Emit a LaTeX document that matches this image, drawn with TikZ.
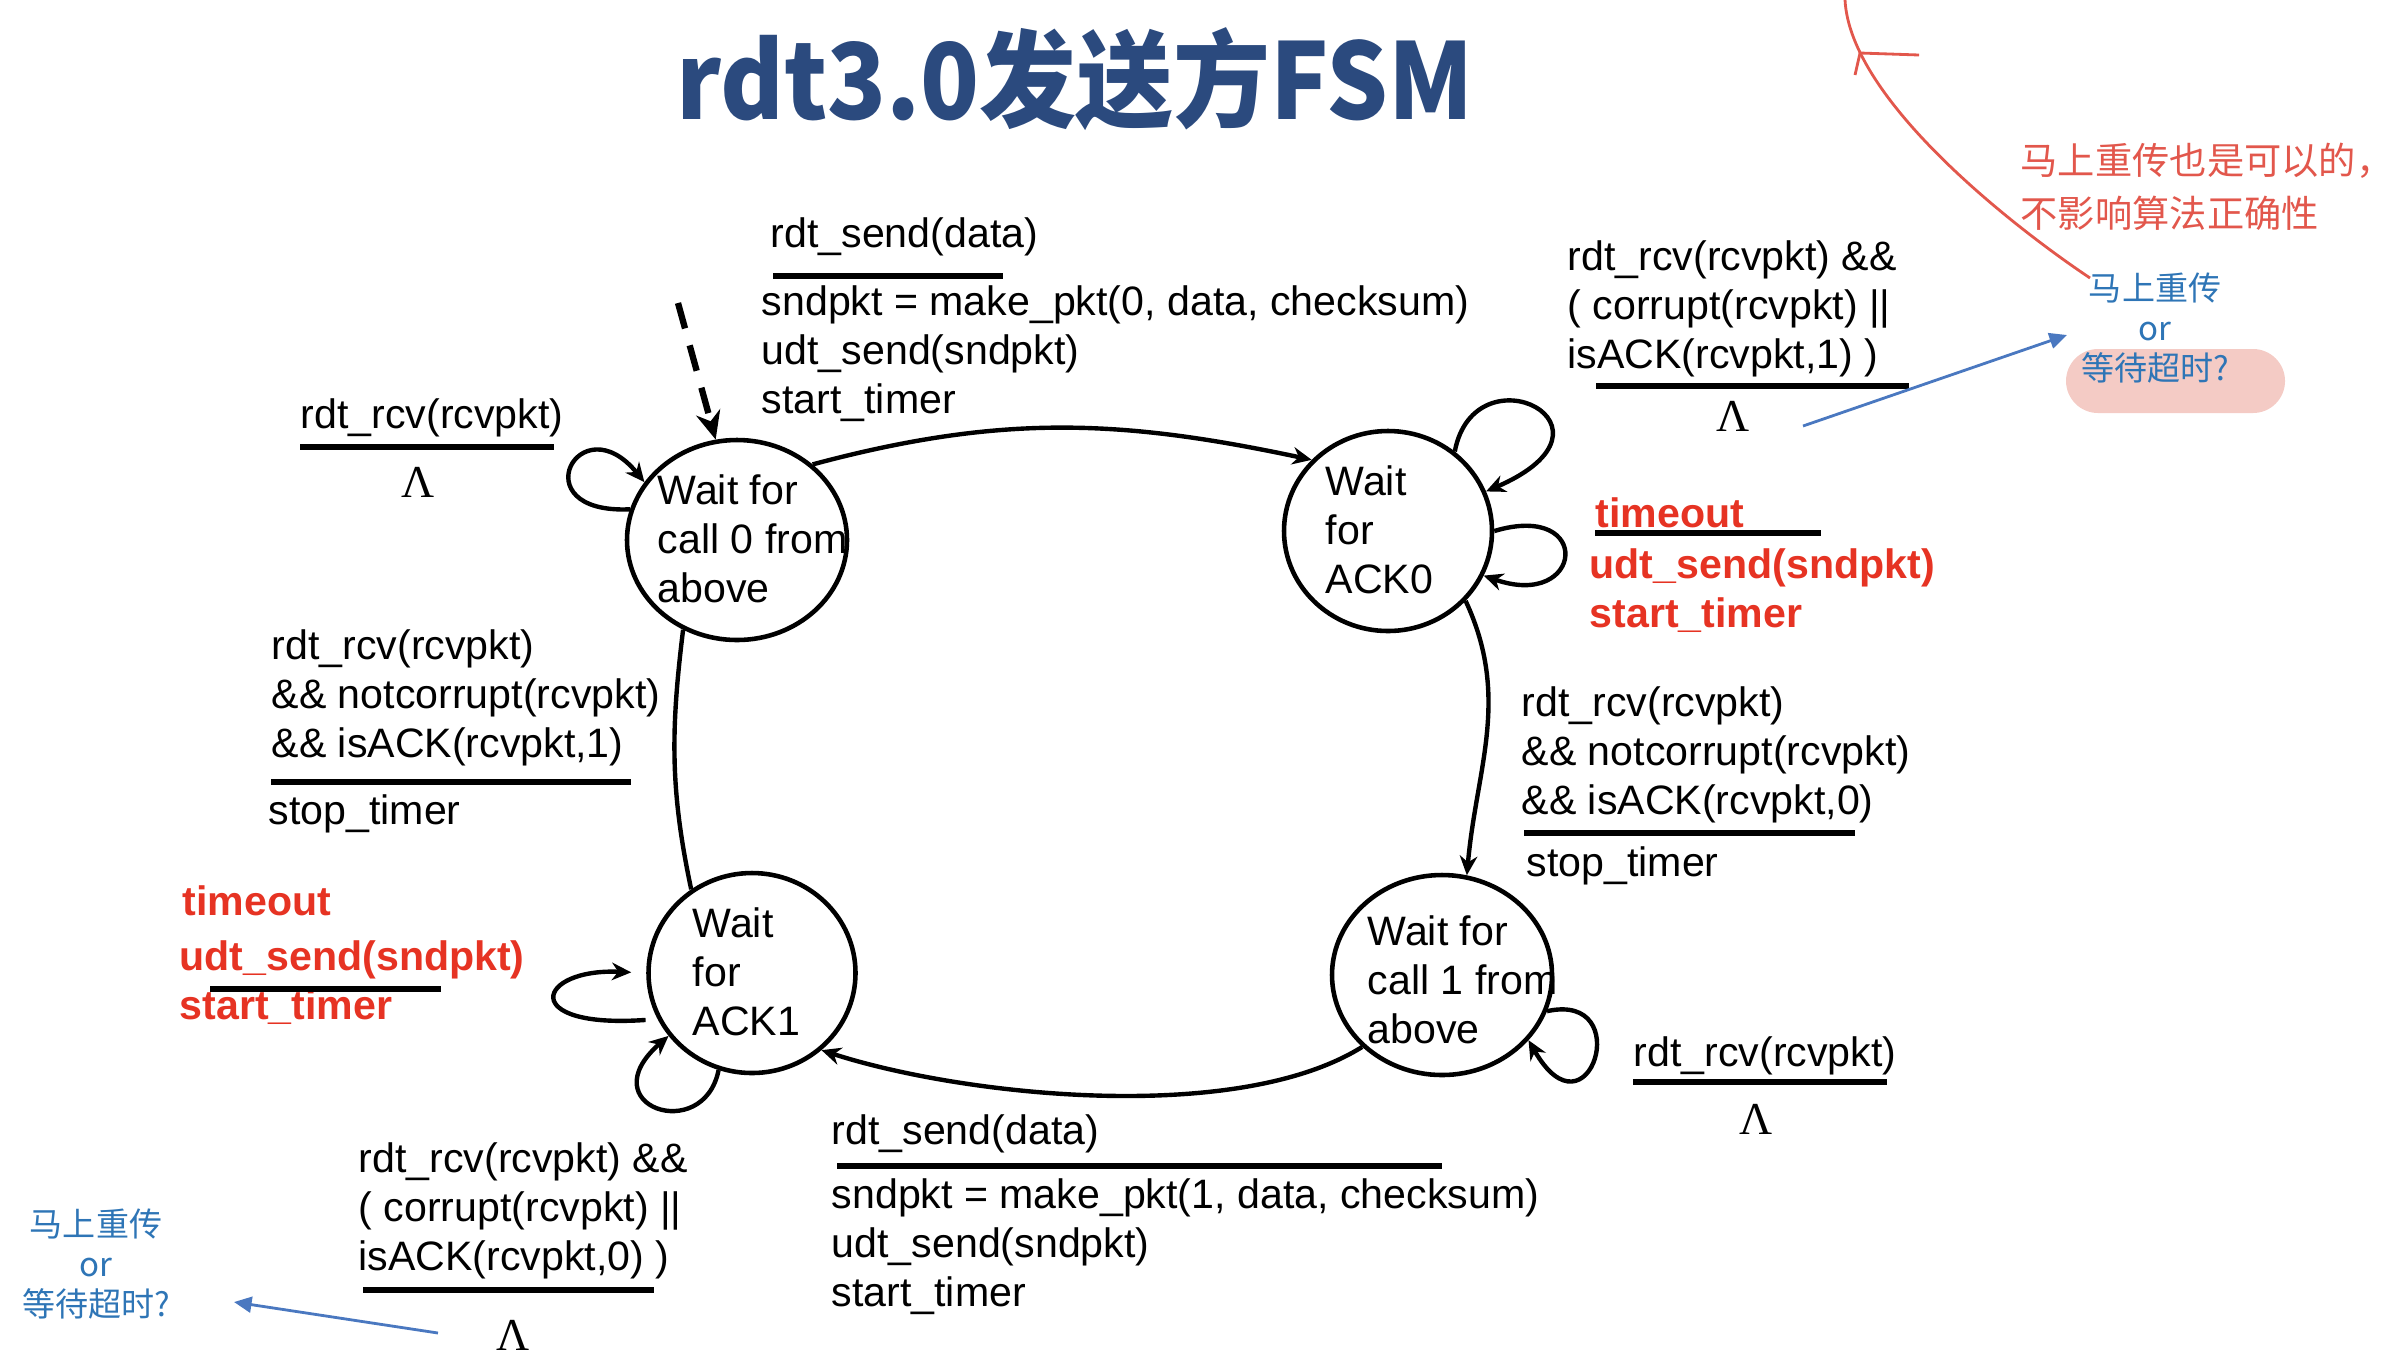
\documentclass[tikz,border=0pt]{standalone}
\usepackage{fontspec}
\setmainfont{Liberation Sans}
\newfontfamily\cjkfont{Noto Sans CJK SC}
\newfontfamily\lamfont{Liberation Serif}
\usepackage{xcolor}
\usetikzlibrary{arrows.meta,positioning,shapes.geometric}

\definecolor{titleblue}{HTML}{2B4A7E}
\definecolor{fsmred}{HTML}{E63323}
\definecolor{notered}{HTML}{E2574C}
\definecolor{noteblue}{HTML}{2E75B6}
\definecolor{arrowblue}{HTML}{4A78C0}
\definecolor{pillpink}{HTML}{F4CBC5}

\newcommand\lblfont{\fontsize{11.7}{13.9}\selectfont}

\begin{document}
\begin{tikzpicture}[
    state/.style={draw, ellipse, line width=1.3pt, minimum height=2.0cm, inner sep=0pt},
    stxt/.style={font=\lblfont, align=left, anchor=west, inner sep=0pt},
    lbl/.style={font=\lblfont, align=left, anchor=west, inner sep=0pt},
    rlbl/.style={lbl, font=\lblfont\bfseries, text=fsmred},
    lam/.style={font=\lamfont\fontsize{13}{15}\selectfont, inner sep=0pt},
    ubar/.style={line width=1.5pt},
    arr/.style={-{Stealth[length=5.5pt,width=5pt]}, line width=1.25pt},
    plain/.style={line width=1.25pt},
    initarr/.style={-{Stealth[length=8pt,width=7pt]}, line width=1.8pt,
                    dash pattern=on 7.5pt off 5pt},
    notetxt/.style={font=\cjkfont\fontsize{9.4}{11.3}\selectfont, text=noteblue,
                    align=center, inner sep=0pt},
    narr/.style={-{Triangle[length=5pt,width=4.5pt]}, arrowblue, line width=0.8pt},
    noteline/.style={notered, line width=0.8pt},
    pill/.style={fill=pillpink, rounded corners=0.32cm, minimum width=2.19cm,
                 minimum height=0.64cm, inner sep=0pt}
]
    \useasboundingbox (0,0) rectangle (24,-13.62);

    % Title
    \node[font=\cjkfont\bfseries\fontsize{30}{36}\selectfont, text=titleblue, anchor=base]
        (title) at (10.75,-1.19) {\scalebox{0.92}[1]{rdt3.0发送方FSM}};

    % States
    \node[state, minimum width=2.2cm] (s0) at (7.37,-5.40) {};
    \node[state, minimum width=2.08cm] (s1) at (13.88,-5.31) {};
    \node[state, minimum width=2.2cm] (s2) at (14.42,-9.75) {};
    \node[state, minimum width=2.07cm] (s3) at (7.52,-9.73) {};

    \node[stxt] (s0txt) at (6.57,-5.39) {Wait for\\call 0 from\\above};
    \node[stxt] (s1txt) at (13.25,-5.30) {Wait\\for\\ACK0};
    \node[stxt] (s2txt) at (13.67,-9.80) {Wait for\\call 1 from\\above};
    \node[stxt] (s3txt) at (6.92,-9.72) {Wait\\for\\ACK1};

    % Initial arrow
    \coordinate (init) at (6.78,-3.03);
    \draw[initarr] (init) -- (s0.102);

    % Transitions
    \draw[arr] (s0.45) to[out=15, in=168] (s1.137);
    \draw[arr] (s1.-42) to[out=-65, in=85] (s2.76);
    \draw[arr] (s2.222) to[out=212, in=-18, looseness=0.7] (s3.312);
    \draw[plain] (s3.126) to[out=102, in=-97] (s0.239);

    % Self loops
    \draw[arr] (s0.164) .. controls +(-1.1,-0.05) and +(-0.65,0.8) .. (s0.148);
    \draw[arr] (s1.50) .. controls +(0.2,1.05) and +(1.5,0.65) .. (s1.22);
    \draw[arr] (s1.0) .. controls +(1.0,0.3) and +(1.0,-0.35) .. (s1.-25);
    \draw[arr] (s2.-19) .. controls +(0.9,0.2) and +(0.6,-1.05) .. (s2.-37);
    \draw[arr, shorten <=0.12cm, shorten >=0.15cm]
        (s3.206) .. controls +(-1.4,-0.1) and +(-1.1,0.05) .. (s3.180);
    \draw[arr] (s3.251) .. controls +(-0.15,-0.75) and +(-0.8,-0.7) .. (s3.217);

    % Labels: s0 -> s1
    \node[lbl] (ev01) at (7.70,-2.37) {rdt\_send(data)};
    \draw[ubar] (7.73,-2.76) -- (10.03,-2.76);
    \node[lbl] (act01) at (7.61,-3.54)
        {sndpkt = make\_pkt(0, data, checksum)\\udt\_send(sndpkt)\\start\_timer};

    % Labels: s0 loop
    \node[lbl] (ev00) at (3.00,-4.18) {rdt\_rcv(rcvpkt)};
    \draw[ubar] (3.00,-4.47) -- (5.54,-4.47);
    \node[lam] (lam00) at (4.18,-4.82) {Λ};

    % Labels: s1 loops
    \node[lbl] (ev11a) at (15.67,-3.09)
        {rdt\_rcv(rcvpkt) \&\&\\( corrupt(rcvpkt) ||\\isACK(rcvpkt,1) )};
    \draw[ubar] (15.96,-3.86) -- (19.09,-3.86);
    \node[lam] (lam11a) at (17.33,-4.16) {Λ};

    \node[rlbl] (ev11b) at (15.95,-5.13) {timeout};
    \draw[ubar] (15.95,-5.33) -- (18.21,-5.33);
    \node[rlbl] (act11b) at (15.89,-5.91) {udt\_send(sndpkt)\\start\_timer};

    % Labels: s1 -> s2
    \node[lbl] (ev12) at (15.21,-7.55)
        {rdt\_rcv(rcvpkt)\\\&\& notcorrupt(rcvpkt)\\\&\& isACK(rcvpkt,0)};
    \draw[ubar] (15.24,-8.33) -- (18.55,-8.33);
    \node[lbl] (act12) at (15.26,-8.66) {stop\_timer};

    % Labels: s2 loop
    \node[lbl] (ev22) at (16.33,-10.56) {rdt\_rcv(rcvpkt)};
    \draw[ubar] (16.33,-10.82) -- (18.87,-10.82);
    \node[lam] (lam22) at (17.56,-11.19) {Λ};

    % Labels: s2 -> s3
    \node[lbl] (ev23) at (8.31,-11.34) {rdt\_send(data)};
    \draw[ubar] (8.37,-11.66) -- (14.42,-11.66);
    \node[lbl] (act23) at (8.31,-12.47)
        {sndpkt = make\_pkt(1, data, checksum)\\udt\_send(sndpkt)\\start\_timer};

    % Labels: s3 loops
    \node[rlbl] (ev33a) at (1.82,-9.01) {timeout};
    \node[rlbl] (act33a) at (1.79,-9.83) {udt\_send(sndpkt)\\start\_timer};
    \draw[ubar] (2.10,-9.89) -- (4.41,-9.89);

    \node[lbl] (ev33b) at (3.58,-12.11)
        {rdt\_rcv(rcvpkt) \&\&\\( corrupt(rcvpkt) ||\\isACK(rcvpkt,0) )};
    \draw[ubar] (3.63,-12.90) -- (6.54,-12.90);
    \node[lam] (lam33b) at (5.13,-13.35) {Λ};

    % Labels: s3 -> s0
    \node[lbl] (ev30) at (2.71,-6.98)
        {rdt\_rcv(rcvpkt)\\\&\& notcorrupt(rcvpkt)\\\&\& isACK(rcvpkt,1)};
    \draw[ubar] (2.71,-7.82) -- (6.31,-7.82);
    \node[lbl] (act30) at (2.68,-8.14) {stop\_timer};

    % Notes
    \node[notetxt] (noteL) at (0.96,-12.64) {马上重传\\or\\等待超时?};
    \coordinate (noteLtail) at (4.38,-13.33);
    \coordinate (noteLtip) at (2.34,-13.02);
    \draw[narr] (noteLtail) -- (noteLtip);

    \node[pill] (pill) at (21.755,-3.81) {};
    \node[notetxt] (noteR) at (21.55,-3.28) {马上重传\\or\\等待超时?};
    \coordinate (noteRtail) at (18.03,-4.26);
    \coordinate (noteRtip) at (20.67,-3.35);
    \draw[narr] (noteRtail) -- (noteRtip);

    \node[font=\cjkfont\fontsize{10.6}{15.1}\selectfont, text=notered, align=left,
          anchor=west, inner sep=0pt] (noteTop) at (20.20,-1.87)
        {马上重传也是可以的，\\不影响算法正确性};
    \coordinate (curveFoot) at (20.90,-2.78);
    \coordinate (curveTop) at (18.45,0.0);
    \coordinate (markTip) at (18.60,-0.53);
    \draw[noteline] (curveFoot) .. controls +(-0.75,0.5) and +(0.05,-1.0) .. (curveTop);
    \draw[noteline] (18.55,-0.75) -- (markTip) -- (19.19,-0.55);
\end{tikzpicture}
\end{document}
